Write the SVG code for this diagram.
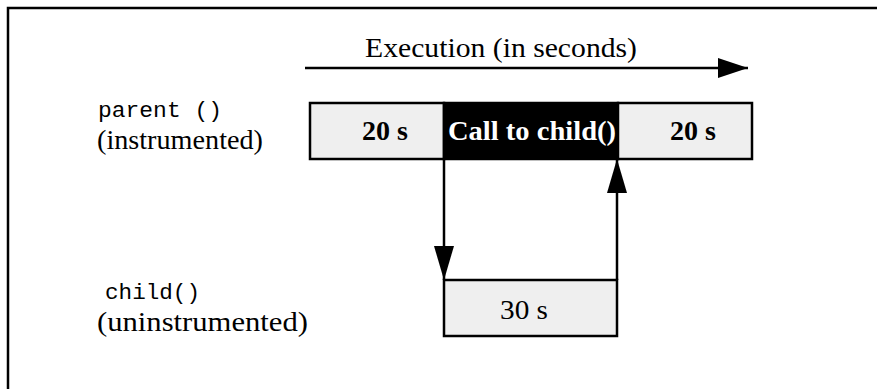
<svg xmlns="http://www.w3.org/2000/svg" width="877" height="389" viewBox="0 0 877 389">
  <style>
    .frame { fill: none; stroke: #000; stroke-width: 2.5; }
    .bar { fill: #efefef; stroke: #000; stroke-width: 2.5; }
    .call { fill: #000; stroke: #000; stroke-width: 2.5; }
    .wire { fill: none; stroke: #000; stroke-width: 2.5; }
    .serif { font-family: "Liberation Serif", "Times New Roman", serif; fill: #000; }
    .mono { font-family: "Liberation Mono", "Courier New", monospace; fill: #000; font-size: 22px; }
    .label { font-size: 27px; }
    .val { font-size: 27px; text-anchor: middle; }
    .strong { font-weight: bold; }
  </style>
  <defs>
    <marker id="head" markerUnits="userSpaceOnUse" markerWidth="30" markerHeight="20" refX="30" refY="10" orient="auto">
      <path d="M0,0 L30,10 L0,20 Z" fill="#000"/>
    </marker>
    <marker id="headSmall" markerUnits="userSpaceOnUse" markerWidth="34" markerHeight="20" refX="34" refY="10" orient="auto">
      <path d="M0,0 L34,10 L0,20 Z" fill="#000"/>
    </marker>
  </defs>

  <!-- outer frame: top and left edges only -->
  <path class="frame" d="M8,389 V8 H877"/>

  <!-- time axis -->
  <g id="axis">
    <text class="serif label" x="365" y="57" style="font-size:28px" textLength="272" lengthAdjust="spacingAndGlyphs">Execution (in seconds)</text>
    <line class="wire" x1="305" y1="68" x2="748" y2="68" marker-end="url(#head)"/>
  </g>

  <!-- row labels -->
  <g id="parent-label">
    <text class="mono" x="98" y="117" textLength="124" lengthAdjust="spacingAndGlyphs">parent ()</text>
    <text class="serif label" x="97" y="149" textLength="166" lengthAdjust="spacingAndGlyphs">(instrumented)</text>
  </g>
  <g id="child-label">
    <text class="mono" x="105" y="299" textLength="95" lengthAdjust="spacingAndGlyphs">child()</text>
    <text class="serif label" x="97" y="331" textLength="211" lengthAdjust="spacingAndGlyphs">(uninstrumented)</text>
  </g>

  <!-- parent timeline -->
  <g id="parent-bar">
    <rect class="bar" x="310" y="103" width="134" height="56"/>
    <rect class="call" x="444" y="103" width="174" height="56"/>
    <rect class="bar" x="618" y="103" width="134" height="56"/>
    <text class="serif val strong" x="385" y="140" textLength="46" lengthAdjust="spacingAndGlyphs">20 s</text>
    <text class="serif val strong" x="532" y="140" style="fill:#fff" textLength="168" lengthAdjust="spacingAndGlyphs">Call to child()</text>
    <text class="serif val strong" x="693" y="140" textLength="46" lengthAdjust="spacingAndGlyphs">20 s</text>
  </g>

  <!-- child timeline -->
  <g id="child-bar">
    <rect class="bar" x="444" y="280" width="173" height="56"/>
    <text class="serif val" x="524" y="319" textLength="48" lengthAdjust="spacingAndGlyphs">30 s</text>
  </g>

  <!-- call and return connectors -->
  <g id="connectors">
    <line class="wire" x1="444" y1="159" x2="444" y2="280" marker-end="url(#headSmall)"/>
    <line class="wire" x1="617" y1="280" x2="617" y2="159" marker-end="url(#headSmall)"/>
  </g>
</svg>
